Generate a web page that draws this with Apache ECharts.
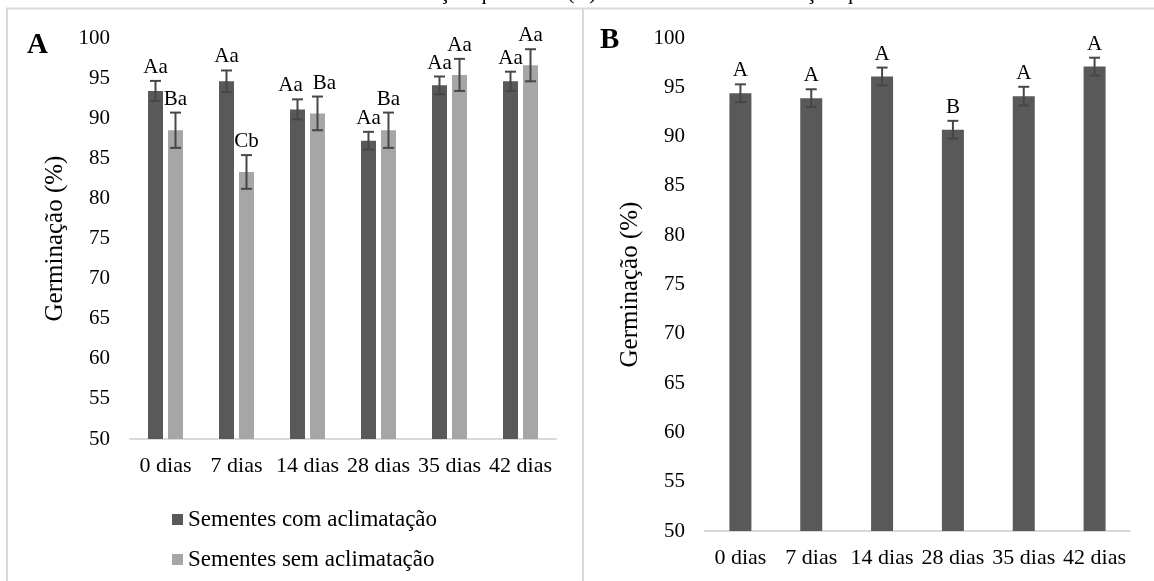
<!DOCTYPE html>
<html>
<head>
<meta charset="utf-8">
<script src="https://cdn.jsdelivr.net/npm/echarts@6/dist/echarts.min.js"></script>
<style>
html,body{margin:0;padding:0;background:#fff;}
#c{width:1154px;height:581px;}
</style>
</head>
<body>
<div id="c"></div>
<script>
// ---- data ----
const categories = ['0 dias', '7 dias', '14 dias', '28 dias', '35 dias', '42 dias'];
const seriesNamesA = ['Sementes com aclimatação', 'Sementes sem aclimatação'];
const comAclimA = [93.4, 94.6, 91.1, 87.2, 94.1, 94.6];
const comAclimAErr = [1.25, 1.35, 1.25, 1.1, 1.1, 1.2];
const comAclimALetters = ['Aa', 'Aa', 'Aa', 'Aa', 'Aa', 'Aa'];
const semAclimA = [88.5, 83.3, 90.6, 88.5, 95.4, 96.6];
const semAclimAErr = [2.2, 2.1, 2.1, 2.2, 2.0, 2.0];
const semAclimALetters = ['Ba', 'Cb', 'Ba', 'Ba', 'Aa', 'Aa'];
const valuesB = [94.4, 93.9, 96.1, 90.7, 94.1, 97.1];
const errB = [0.9, 0.9, 0.9, 0.9, 0.95, 0.9];
const lettersB = ['A', 'A', 'A', 'B', 'A', 'A'];
const yMin = 50, yMax = 100, yStep = 5;
const yAxisName = 'Germinação (%)';
const panelLabels = ['A', 'B'];
const captionText = 'sementes com aclimatação química e (B) sementes com aclimatação química.';

// ---- styles ----
const FONT = '"Liberation Serif", "Times New Roman", serif';
const DARK = '#595959', LIGHT = '#a6a6a6', ERR = '#474747', FRAME = '#d9d9d9';
const barWA = 15, gapA = 5, barWB = 22, cap = 11;

function errSeries(gridIdx, vals, errs, letters, offset, partnerVals, partnerErrs, shiftSign) {
  return {
    type: 'custom',
    xAxisIndex: gridIdx, yAxisIndex: gridIdx,
    z: 5, silent: true,
    data: vals.map((v, i) => [i, v, errs[i]]),
    renderItem: function (params, api) {
      const i = api.value(0), v = api.value(1), e = api.value(2);
      const t = api.coord([i, v + e]);
      const b = api.coord([i, v - e]);
      const x = t[0] + offset;
      let dx = 0;
      if (partnerVals) {
        const pt = api.coord([i, partnerVals[i] + partnerErrs[i]]);
        if (Math.abs(pt[1] - t[1]) < 14) dx = shiftSign * 7;
      }
      const ls = { stroke: ERR, lineWidth: 2 };
      return {
        type: 'group',
        children: [
          { type: 'line', shape: { x1: x, y1: t[1], x2: x, y2: b[1] }, style: ls },
          { type: 'line', shape: { x1: x - cap / 2, y1: t[1], x2: x + cap / 2, y2: t[1] }, style: ls },
          { type: 'line', shape: { x1: x - cap / 2, y1: b[1], x2: x + cap / 2, y2: b[1] }, style: ls },
          { type: 'text', style: { text: letters[i], x: x + dx, y: t[1] - 3, align: 'center', verticalAlign: 'bottom',
              font: '21px ' + FONT, fill: '#000' } }
        ]
      };
    }
  };
}

function yAx(gridIdx, gap) {
  return {
    type: 'value', gridIndex: gridIdx, min: yMin, max: yMax, interval: yStep,
    name: yAxisName, nameLocation: 'middle', nameRotate: 90, nameGap: gap,
    nameTextStyle: { fontFamily: FONT, fontSize: 25, color: '#000' },
    axisLine: { show: false }, axisTick: { show: false }, splitLine: { show: false },
    axisLabel: { fontFamily: FONT, fontSize: 21, color: '#000', margin: 20 }
  };
}
function xAx(gridIdx) {
  return {
    type: 'category', gridIndex: gridIdx, data: categories,
    axisLine: { lineStyle: { color: FRAME, width: 2 } }, axisTick: { show: false },
    axisLabel: { fontFamily: FONT, fontSize: 22, color: '#000', margin: 16, interval: 0 }
  };
}

const chart = echarts.init(document.getElementById('c'), null, { renderer: 'canvas' });
chart.setOption({
  animation: false,
  backgroundColor: '#fff',
  grid: [
    { left: 130, top: 38, width: 426, height: 401 },
    { left: 705, top: 38, width: 425, height: 493 }
  ],
  xAxis: [xAx(0), xAx(1)],
  yAxis: [yAx(0, 62), yAx(1, 62)],
  legend: {
    data: seriesNamesA, orient: 'vertical', left: 167, top: 503,
    itemWidth: 11, itemHeight: 11, itemGap: 17, icon: 'rect',
    textStyle: { fontFamily: FONT, fontSize: 23, color: '#000', padding: [0, 0, 0, 0] }
  },
  series: [
    { name: seriesNamesA[0], type: 'bar', xAxisIndex: 0, yAxisIndex: 0, data: comAclimA,
      barWidth: barWA, barGap: (gapA / barWA * 100) + '%', itemStyle: { color: DARK } },
    { name: seriesNamesA[1], type: 'bar', xAxisIndex: 0, yAxisIndex: 0, data: semAclimA,
      barWidth: barWA, itemStyle: { color: LIGHT } },
    { name: 'B', type: 'bar', xAxisIndex: 1, yAxisIndex: 1, data: valuesB,
      barWidth: barWB, itemStyle: { color: DARK } },
    errSeries(0, comAclimA, comAclimAErr, comAclimALetters, -(barWA + gapA) / 2, semAclimA, semAclimAErr, -1),
    errSeries(0, semAclimA, semAclimAErr, semAclimALetters, (barWA + gapA) / 2, comAclimA, comAclimAErr, 1),
    errSeries(1, valuesB, errB, lettersB, 0, null, null, 0)
  ],
  graphic: [
    { type: 'text', left: 'center', top: -18, style: { text: captionText, font: '22px ' + FONT, fill: '#000' } },
    { type: 'line', shape: { x1: 6, y1: 8.5, x2: 1154, y2: 8.5 }, style: { stroke: FRAME, lineWidth: 2 } },
    { type: 'line', shape: { x1: 7, y1: 8, x2: 7, y2: 581 }, style: { stroke: FRAME, lineWidth: 2 } },
    { type: 'line', shape: { x1: 583, y1: 8, x2: 583, y2: 581 }, style: { stroke: FRAME, lineWidth: 2 } },
    { type: 'text', left: 27, top: 31, style: { text: panelLabels[0], font: 'bold 29px ' + FONT, fill: '#000' } },
    { type: 'text', left: 600, top: 26, style: { text: panelLabels[1], font: 'bold 29px ' + FONT, fill: '#000' } }
  ]
});
</script>
</body>
</html>
